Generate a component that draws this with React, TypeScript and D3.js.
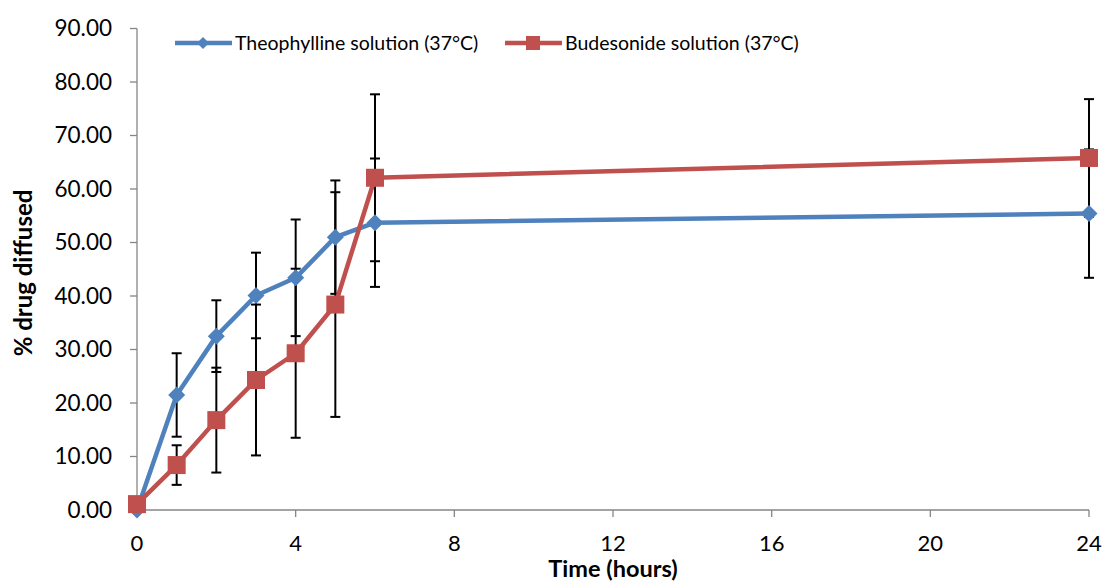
import React from "react";
import * as d3 from "d3";

const times = [0, 1, 2, 3, 4, 5, 6, 24];
const theophylline = [0, 21.5, 32.5, 40.1, 43.4, 51.0, 53.7, 55.4];
const theophyllineErr = [0, 7.8, 6.7, 8.0, 10.9, 10.6, 12.0, 12.0];
const budesonide = [1.1, 8.4, 16.8, 24.3, 29.3, 38.4, 62.1, 65.8];
const budesonideErr = [0, 3.7, 9.8, 14.1, 15.8, 21.0, 15.6, 11.0];
const xTicks = [0, 4, 8, 12, 16, 20, 24];
const yTicks = [0, 10, 20, 30, 40, 50, 60, 70, 80, 90];
const seriesNames = ["Theophylline solution (37°C)", "Budesonide solution (37°C)"];
const colors = ["#4F81BD", "#C0504D"];

const W = 1103;
const H = 581;
const FONT = "Lato, 'Open Sans', sans-serif";

export default function App() {
  const x = d3.scaleLinear().domain([0, 24]).range([137, 1089]);
  const y = d3.scaleLinear().domain([0, 90]).range([510, 28.5]);
  const line = d3
    .line<[number, number]>()
    .x((d) => x(d[0]))
    .y((d) => y(d[1]));

  const series = [
    { name: seriesNames[0], vals: theophylline, err: theophyllineErr, color: colors[0], marker: "diamond" },
    { name: seriesNames[1], vals: budesonide, err: budesonideErr, color: colors[1], marker: "square" },
  ];

  const marker = (kind: string, cx: number, cy: number, color: string, key: string) =>
    kind === "diamond" ? (
      <path key={key} d={`M${cx},${cy - 8.5}L${cx + 8.5},${cy}L${cx},${cy + 8.5}L${cx - 8.5},${cy}Z`} fill={color} />
    ) : (
      <rect key={key} x={cx - 9} y={cy - 9} width={18} height={18} fill={color} />
    );

  return (
    <svg width={W} height={H} style={{ position: "absolute", left: 0, top: 0, background: "#fff" }}>
      {/* axes */}
      <line x1={137} x2={137} y1={y(90)} y2={510} stroke="#868686" strokeWidth={1.3} />
      <line x1={137} x2={1089} y1={510} y2={510} stroke="#868686" strokeWidth={1.3} />
      {yTicks.map((t) => (
        <g key={"y" + t}>
          <line x1={130} x2={137} y1={y(t)} y2={y(t)} stroke="#868686" strokeWidth={1.3} />
          <text x={112} y={y(t)} dy="0.35em" textAnchor="end" fontFamily={FONT} fontSize={22.5} fill="#000">
            {t.toFixed(2)}
          </text>
        </g>
      ))}
      {xTicks.map((t) => (
        <g key={"x" + t}>
          <line x1={x(t)} x2={x(t)} y1={510} y2={517} stroke="#868686" strokeWidth={1.3} />
          <text x={x(t)} y={551} textAnchor="middle" fontFamily={FONT} fontSize={22} fill="#000">
            {t}
          </text>
        </g>
      ))}
      <text x={613} y={577} textAnchor="middle" fontFamily={FONT} fontSize={23.5} fontWeight="bold">
        Time (hours)
      </text>
      <text
        transform={`translate(32,273) rotate(-90)`}
        textAnchor="middle"
        fontFamily={FONT}
        fontSize={24}
        fontWeight="bold"
      >
        % drug diffused
      </text>

      {/* error bars */}
      {series.map((s, si) =>
        s.vals.map((v, i) =>
          s.err[i] > 0 ? (
            <g key={`e${si}-${i}`} stroke="#000" strokeWidth={2}>
              <line x1={x(times[i])} x2={x(times[i])} y1={y(v + s.err[i])} y2={y(v - s.err[i])} />
              <line x1={x(times[i]) - 5} x2={x(times[i]) + 5} y1={y(v + s.err[i])} y2={y(v + s.err[i])} />
              <line x1={x(times[i]) - 5} x2={x(times[i]) + 5} y1={y(v - s.err[i])} y2={y(v - s.err[i])} />
            </g>
          ) : null
        )
      )}

      {/* lines and markers */}
      {series.map((s, si) => (
        <g key={"s" + si}>
          <path
            d={line(times.map((t, i) => [t, s.vals[i]] as [number, number])) || ""}
            fill="none"
            stroke={s.color}
            strokeWidth={4.5}
            strokeLinejoin="round"
          />
          {s.vals.map((v, i) => marker(s.marker, x(times[i]), y(v), s.color, `m${si}-${i}`))}
        </g>
      ))}

      {/* legend */}
      {series.map((s, si) => {
        const lx = si === 0 ? 175 : 505;
        return (
          <g key={"l" + si}>
            <line x1={lx} x2={lx + 57} y1={43} y2={43} stroke={s.color} strokeWidth={4.5} />
            {s.marker === "diamond" ? (
              <path d={`M${lx + 28},${43 - 6}L${lx + 34},43L${lx + 28},${43 + 6}L${lx + 22},43Z`} fill={s.color} />
            ) : (
              <rect x={lx + 21} y={36} width={14} height={14} fill={s.color} />
            )}
            <text x={lx + 60} y={43} dy="0.35em" fontFamily={FONT} fontSize={19.5} fill="#000">
              {s.name}
            </text>
          </g>
        );
      })}
    </svg>
  );
}
